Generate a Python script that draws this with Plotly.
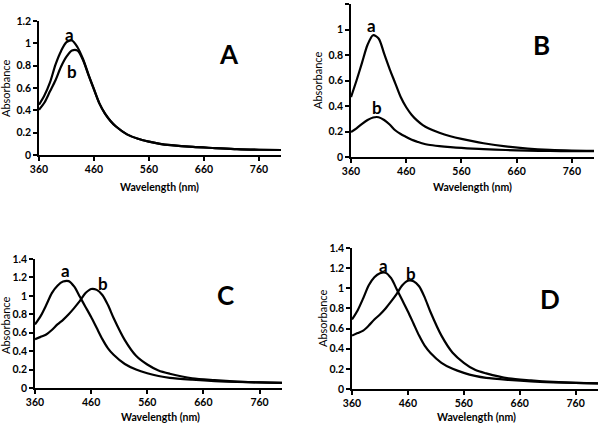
import plotly.graph_objects as go

# ---------------- data ----------------
wl = [360, 370, 380, 390, 400, 410, 420, 430, 440, 450, 460, 470, 480, 490, 500,
      520, 540, 560, 580, 600, 640, 680, 720, 760, 800]

A_a = [0.45, 0.535, 0.65, 0.81, 0.93, 1.01, 1.025, 0.965, 0.86, 0.72, 0.59, 0.46, 0.37, 0.305, 0.255,
       0.185, 0.145, 0.12, 0.10, 0.088, 0.072, 0.062, 0.052, 0.047, 0.045]
A_b = [0.405, 0.47, 0.57, 0.67, 0.79, 0.88, 0.935, 0.935, 0.85, 0.715, 0.585, 0.46, 0.37, 0.305, 0.255,
       0.185, 0.145, 0.12, 0.10, 0.088, 0.072, 0.062, 0.052, 0.047, 0.045]

B_a = [0.47, 0.60, 0.74, 0.88, 0.955, 0.93, 0.81, 0.69, 0.58, 0.47, 0.39, 0.33, 0.285, 0.25, 0.225,
       0.19, 0.163, 0.142, 0.124, 0.108, 0.083, 0.066, 0.056, 0.051, 0.049]
B_b = [0.196, 0.225, 0.26, 0.29, 0.31, 0.312, 0.29, 0.255, 0.21, 0.18, 0.157, 0.135, 0.12, 0.106, 0.096,
       0.085, 0.077, 0.071, 0.066, 0.062, 0.055, 0.05, 0.047, 0.046, 0.045]

C_a = [0.69, 0.78, 0.90, 1.03, 1.11, 1.155, 1.16, 1.10, 0.99, 0.88, 0.77, 0.65, 0.53, 0.43, 0.36,
       0.26, 0.20, 0.16, 0.13, 0.11, 0.09, 0.075, 0.066, 0.06, 0.055]
C_b = [0.53, 0.555, 0.58, 0.63, 0.69, 0.74, 0.80, 0.87, 0.945, 1.03, 1.075, 1.065, 1.01, 0.90, 0.76,
       0.52, 0.35, 0.255, 0.19, 0.155, 0.105, 0.085, 0.07, 0.06, 0.055]

D_a = [0.69, 0.78, 0.90, 1.03, 1.11, 1.15, 1.155, 1.10, 0.99, 0.88, 0.77, 0.65, 0.53, 0.43, 0.36,
       0.26, 0.20, 0.16, 0.13, 0.11, 0.09, 0.075, 0.066, 0.06, 0.055]
D_b = [0.53, 0.555, 0.58, 0.63, 0.69, 0.74, 0.80, 0.87, 0.945, 1.03, 1.075, 1.07, 1.02, 0.91, 0.77,
       0.53, 0.36, 0.26, 0.19, 0.155, 0.105, 0.085, 0.07, 0.06, 0.055]

x_ticks = [360, 460, 560, 660, 760]
panel_names = ["A", "B", "C", "D"]
curve_labels = ["a", "b"]

# ---------------- figure ----------------
fig = go.Figure()
series = [(A_a, A_b), (B_a, B_b), (C_a, C_b), (D_a, D_b)]
for i, (sa, sb) in enumerate(series):
    ax = "" if i == 0 else str(i + 1)
    for s in (sa, sb):
        fig.add_trace(go.Scatter(x=wl, y=s, mode="lines",
                                 line=dict(color="black", width=2.2, shape="spline", smoothing=0.8),
                                 xaxis="x" + ax, yaxis="y" + ax, showlegend=False, hoverinfo="skip"))

W, H = 600, 423
def fx(px):
    return px / W
def fy(py):
    return 1 - py / H

domains = [
    ([fx(39), fx(281)], [fy(155), fy(21)], [0, 1.2]),
    ([fx(351), fx(594)], [fy(157), fy(4)], [0, 1.2]),
    ([fx(35), fx(282)], [fy(388), fy(259)], [0, 1.4]),
    ([fx(352), fx(598)], [fy(389), fy(248)], [0, 1.4]),
]

tickfont = dict(family="Lato", size=10.5, color="black", weight="bold")
layout = dict(width=W, height=H, margin=dict(l=0, r=0, t=0, b=0),
              paper_bgcolor="white", plot_bgcolor="white", showlegend=False)
for i, (xd, yd, yr) in enumerate(domains):
    n = "" if i == 0 else str(i + 1)
    layout["xaxis" + n] = dict(domain=xd, range=[360, 800], tickvals=x_ticks, anchor="y" + n,
                               showline=True, linecolor="black", linewidth=1.5, ticks="outside",
                               ticklen=4, tickwidth=1.5, tickcolor="black", showgrid=False,
                               zeroline=False, tickfont=tickfont, fixedrange=True, automargin=False)
    layout["yaxis" + n] = dict(domain=yd, range=yr, dtick=0.2, anchor="x" + n,
                               showline=True, linecolor="black", linewidth=1.5, ticks="outside",
                               ticklen=4, tickwidth=1.5, tickcolor="black", showgrid=False,
                               zeroline=False, tickfont=tickfont, fixedrange=True, automargin=False)
fig.update_layout(**layout)

ann = []
# curve letters and panel letters (data coordinates)
letter_pos = [
    [(416, 1.08), (420, 0.75), (705, 0.90)],
    [(398, 1.03), (407, 0.39), (705, 0.88)],
    [(414, 1.28), (482, 1.13), (699, 1.01)],
    [(417, 1.23), (465, 1.15), (714, 0.89)],
]
for i, pos in enumerate(letter_pos):
    n = "" if i == 0 else str(i + 1)
    for j, lab in enumerate(curve_labels):
        ann.append(dict(x=pos[j][0], y=pos[j][1], xref="x" + n, yref="y" + n, text="<b>%s</b>" % lab,
                        showarrow=False, xanchor="center", yanchor="middle",
                        font=dict(family="Lato", size=17, color="black")))
    ann.append(dict(x=pos[2][0], y=pos[2][1], xref="x" + n, yref="y" + n, text="<b>%s</b>" % panel_names[i],
                    showarrow=False, xanchor="center", yanchor="middle",
                    font=dict(family="Lato", size=26, color="black")))

# axis titles
xt = [(159, 187), (472, 187), (160, 417), (476, 417)]
yt = [(6, 88), (317, 80), (5, 325), (322, 318)]
for (px, py) in xt:
    ann.append(dict(x=fx(px), y=fy(py), xref="paper", yref="paper", text="<b>Wavelength (nm)</b>",
                    showarrow=False, xanchor="center", yanchor="middle",
                    font=dict(family="Lato", size=10.5, color="black")))
for (px, py) in yt:
    ann.append(dict(x=fx(px), y=fy(py), xref="paper", yref="paper", text="Absorbance", textangle=-90,
                    showarrow=False, xanchor="center", yanchor="middle",
                    font=dict(family="Lato", size=11, color="black")))
fig.update_layout(annotations=ann)

fig.write_html("out.html", config={"displayModeBar": False},
               post_script="document.body.style.margin='0';document.body.style.overflow='hidden';")
